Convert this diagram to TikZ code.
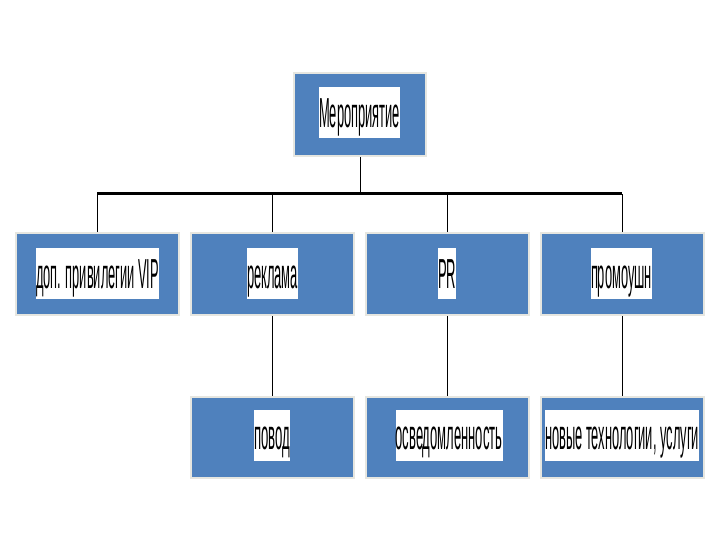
\documentclass[tikz,border=0pt]{standalone}
\usepackage{fontspec}
\setmainfont{Liberation Sans}
\usepackage{graphicx}
\definecolor{boxblue}{HTML}{4F81BD}
\definecolor{boxedge}{HTML}{E6E6E0}
\newcommand{\fitw}[2]{\resizebox{#1}{\height}{#2}}
\begin{document}
\begin{tikzpicture}[x=1pt,y=-1pt,
  box/.style={draw=boxedge, line width=2pt, fill=boxblue, minimum width=163pt, minimum height=82pt, inner sep=0pt},
  lbl/.style={fill=white, inner sep=0pt, text height=40pt, text depth=11pt, font=\fontsize{42}{42}\selectfont},
  con/.style={draw=black, line width=0.8pt},
  barline/.style={draw=black, line width=3pt}]
\useasboundingbox[fill=white] (0,0) rectangle (720,540);
% boxes
\node[box, minimum width=132pt, minimum height=83pt] (top) at (360,115) {};
\node[box] (b1) at (97.5,274) {};
\node[box] (b2) at (272.5,274) {};
\node[box] (b3) at (447.5,274) {};
\node[box] (b4) at (622,274) {};
\node[box, minimum height=81pt] (c2) at (272.5,437) {};
\node[box, minimum height=81pt] (c3) at (447.5,437) {};
\node[box, minimum height=81pt] (c4) at (622,437) {};
% labels
\node[lbl] (ttop) at (359.5,113) {\fitw{81pt}{Мероприятие}};
\node[lbl] (t1) at (97.5,273.5) {\fitw{123pt}{доп. привилегии VIP}};
\node[lbl] (t2) at (272.5,273.5) {\fitw{51pt}{реклама}};
\node[lbl] (t3) at (447,273.5) {\fitw{18pt}{PR}};
\node[lbl] (t4) at (621.5,273.5) {\fitw{61pt}{промоушн}};
\node[lbl] (u2) at (272,435) {\fitw{36pt}{повод}};
\node[lbl] (u3) at (449,435) {\fitw{107pt}{осведомленность}};
\node[lbl] (u4) at (622,435) {\fitw{154pt}{новые технологии, услуги}};
% connectors
\coordinate (bl) at (97.5,194);
\coordinate (br) at (622,194);
\draw[barline] ([xshift=-0.4pt]bl) -- ([xshift=0.4pt]br);
\draw[con] (top.south) -- (top.south |- bl);
\draw[con] (b1.north) -- (b1.north |- bl);
\draw[con] (b2.north) -- (b2.north |- bl);
\draw[con] (b3.north) -- (b3.north |- bl);
\draw[con] (b4.north) -- (b4.north |- bl);
\draw[con] (b2.south) -- (c2.north);
\draw[con] (b3.south) -- (c3.north);
\draw[con] (b4.south) -- (c4.north);
\end{tikzpicture}
\end{document}
